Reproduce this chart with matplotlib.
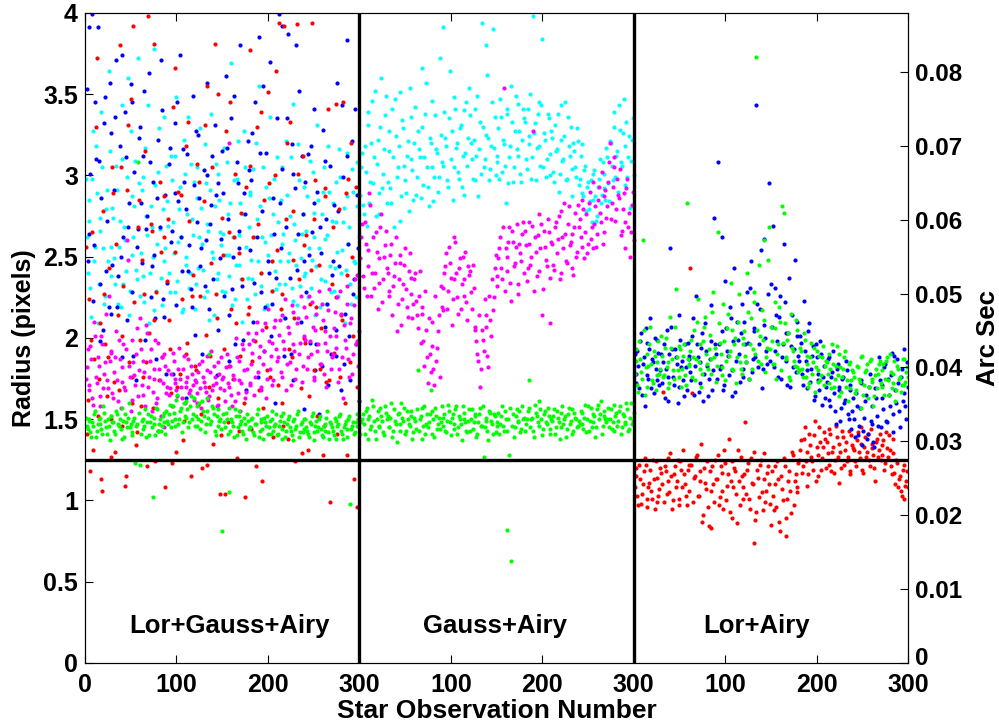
import numpy as np
import matplotlib.pyplot as plt
import matplotlib.transforms as mtransforms

plt.rcParams['font.family'] = ['Liberation Sans Narrow', 'Liberation Sans', 'DejaVu Sans']
plt.rcParams['font.weight'] = 'bold'

obs_odd = np.arange(1, 300, 2)
obs_even = np.arange(2, 301, 2)

# radius values x100; *_o = odd observations, *_e = even observations
# panel 1 : Lor+Gauss+Airy
green_1_o = [151,144,149,139,146,155,143,150,147,141,154,145,150,137,152,
             148,141,153,146,144,157,139,148,151,145,140,149,123,147,154,
             141,150,146,139,153,148,145,151,140,156,147,143,152,148,155,
             147,159,149,154,146,165,150,157,148,152,161,145,158,150,163,
             152,146,160,149,155,142,163,151,147,158,153,140,156,149,144,
             153,145,150,157,143,148,139,152,145,155,149,141,147,153,144,
             145,151,140,147,156,143,150,138,148,152,145,141,150,146,153,
             141,149,144,154,139,147,152,143,137,150,146,155,142,148,144,
             150,143,139,147,154,142,149,145,152,140,146,143,155,138,147,
             143,151,138,147,153,141,145,149,139,152,144,148,142,146,150]
green_1_e = [146,150,142,148,153,139,147,151,144,158,149,141,146,152,148,
             143,155,147,150,138,149,153,145,160,147,142,151,146,308,122,
             149,144,156,148,140,152,102,147,157,143,150,146,154,141,149,
             153,145,158,150,162,147,155,142,160,151,156,148,164,153,146,
             158,150,144,161,152,147,155,190,149,157,143,152,146,150,81,
             148,154,141,105,150,146,156,140,152,147,143,151,138,149,145,
             150,142,147,153,139,148,144,151,146,141,149,155,143,147,140,
             146,152,138,148,143,150,145,140,149,144,153,139,147,142,150,
             145,141,148,152,137,146,143,150,144,139,147,151,142,148,145,
             140,149,146,152,143,138,147,144,150,98,146,141,148,153,145]
magenta_1_o = [175,193,168,187,159,201,172,183,164,196,178,215,169,186,191,
               163,188,174,199,157,182,170,193,248,176,162,185,171,206,180,
               193,165,179,208,170,186,155,175,199,163,181,152,172,190,166,
               180,169,158,186,175,164,194,170,181,160,173,187,168,178,162,
               173,166,184,157,176,170,189,162,179,168,183,172,159,178,188,
               176,161,190,170,183,158,175,200,166,186,172,193,163,181,196,
               172,191,165,203,179,195,168,184,209,175,198,189,171,207,193,
               188,211,176,198,224,184,203,171,216,192,181,212,197,173,219,
               199,181,226,190,207,174,215,196,184,221,178,204,192,230,181,
               190,216,201,173,229,188,208,194,221,176,212,190,236,198,183]
magenta_1_e = [182,171,195,163,210,176,188,158,201,169,185,174,226,192,166,
               179,204,161,187,173,196,168,260,183,155,199,177,190,164,212,
               171,186,158,203,176,193,167,181,160,197,174,188,145,183,170,
               165,178,191,172,168,181,175,163,189,170,176,166,183,171,174,
               160,179,169,186,173,167,180,164,192,171,176,158,185,169,175,
               168,182,172,320,165,177,161,188,174,155,196,180,167,203,171,
               184,199,176,210,188,170,205,192,163,218,181,197,174,211,186,
               202,179,214,193,168,207,185,220,196,175,209,190,226,183,201,
               213,188,198,222,176,205,192,229,184,211,197,170,217,201,188,
               206,194,225,181,215,163,199,232,187,209,178,220,196,239,204]
red_1_o = [256,162,411,199,131,440,372,175,483,106,227,442,188,460,150,
           289,130,441,168,305,201,463,115,331,418,176,392,444,142,285,
           158,402,227,185,398,440,266,211,124,439,174,253,401,287,465,
           273,193,123,445,366,170,411,288,137,450,190,333,458,226,410,
           180,441,296,153,414,331,122,468,189,305,462,227,350,496,140,
           251,104,428,183,345,455,262,209,420,143,277,488,102,456,219,
           306,186,441,121,270,499,339,157,431,180,295,426,247,403,364,
           171,486,227,146,454,320,193,408,278,212,460,301,433,129,257,
           197,416,164,242,425,273,219,434,181,458,146,292,408,174,445,
           268,436,225,403,176,211,418,289,239,455,320,201,464,96,427]
red_1_e = [141,224,118,265,187,330,152,209,113,278,196,164,243,127,305,
           173,258,214,380,146,232,109,291,185,347,160,222,134,268,199,
           248,176,315,121,203,270,157,381,228,143,296,188,262,108,235,
           211,166,342,253,130,290,178,224,149,318,197,272,115,239,183,
           307,159,226,120,284,202,355,170,246,135,381,212,163,104,274,
           193,327,148,265,218,175,301,126,252,189,236,160,293,215,377,
           144,262,198,330,168,240,112,285,207,351,176,229,139,300,254,
           394,218,160,392,273,138,333,188,248,124,393,236,169,312,200,
           263,131,221,394,180,297,152,245,206,128,287,173,341,99,233,
           191,344,141,279,214,345,160,128,298,185,250,113,293,170,238]
blue_1_o = [408,247,391,482,223,345,466,309,198,473,332,241,490,357,215,
            463,336,219,487,250,374,404,311,268,434,345,189,498,256,323,
            283,429,352,267,491,308,244,427,212,286,459,371,224,401,178,
            441,317,266,403,289,345,428,262,316,497,279,241,468,219,294,
            327,412,286,255,465,232,300,471,270,312,446,288,205,440,261,
            289,442,317,186,470,230,349,414,295,255,428,199,276,444,303,
            451,326,234,498,176,314,457,355,219,481,240,201,426,264,237,
            422,283,392,448,212,335,473,190,301,432,380,264,486,312,247,
            296,476,251,318,424,283,196,439,268,183,452,309,221,457,190,
            247,423,205,278,429,343,184,466,312,201,472,227,341,473,255]
blue_1_e = [353,264,301,399,257,310,391,233,286,205,348,272,219,326,245,
            291,371,238,318,188,262,339,211,283,356,228,302,174,267,330,
            246,312,199,275,363,225,296,251,187,322,268,340,213,288,234,
            307,259,178,332,220,284,374,241,296,163,313,257,230,349,202,
            271,325,244,190,303,260,357,218,282,236,331,177,295,249,315,
            226,361,273,214,335,250,196,308,266,380,232,289,168,321,254,
            297,210,345,262,385,228,278,192,314,247,370,221,286,160,335,
            399,255,304,189,268,387,237,319,174,292,242,352,210,276,156,
            228,313,197,265,341,180,290,153,252,328,207,273,171,306,239,
            282,189,357,244,168,299,215,383,258,174,321,236,196,288,161]
cyan_1_o = [298,240,272,213,327,256,289,233,266,305,221,279,247,315,256,
            274,233,291,256,219,310,268,241,360,229,287,262,309,236,295,
            252,299,222,275,343,240,268,217,294,258,329,237,279,247,306,
            269,228,297,252,312,235,279,262,218,301,250,336,240,273,296,
            233,305,262,280,242,319,229,266,291,253,214,307,240,285,257,
            264,228,308,251,283,220,297,245,321,263,236,276,305,224,268,
            288,236,262,320,247,281,232,305,259,220,286,263,247,298,230,
            271,247,305,264,233,288,252,311,223,270,245,319,232,264,293,
            240,287,255,231,302,262,244,285,219,276,305,235,263,290,228,
            283,243,271,226,299,254,280,242,314,268,221,290,246,308,238]
cyan_1_e = [262,285,231,298,247,318,209,274,339,255,226,291,364,238,280,
            249,306,221,272,343,233,260,299,214,327,251,281,242,372,226,
            291,238,317,263,209,281,250,378,229,302,267,220,336,255,284,
            240,312,271,228,348,259,293,216,322,245,276,231,307,263,218,
            286,243,329,258,225,295,270,211,338,249,281,236,301,265,229,
            317,251,276,238,369,262,224,298,245,283,210,327,256,237,290,
            248,304,227,273,355,240,262,218,293,251,336,229,276,241,311,
            233,285,258,212,321,247,275,231,344,260,220,297,249,276,238,
            266,225,309,248,277,214,331,255,236,290,261,221,318,244,272,
            229,296,253,316,240,271,209,287,258,233,304,247,225,281,262]

# panel 2 : Gauss+Airy
cyan_2_o = [288,314,276,302,339,283,320,295,352,307,276,330,292,316,349,
            296,327,283,311,347,299,318,272,334,306,289,321,354,310,285,
            342,299,316,286,330,311,357,293,323,305,284,337,314,299,325,
            306,339,318,293,364,327,305,341,320,298,331,312,288,345,323,
            337,310,322,297,349,316,301,330,310,380,323,304,345,317,300,
            312,298,336,322,306,341,295,318,333,305,349,312,327,296,341,
            333,304,319,350,311,326,297,338,318,343,305,322,310,335,300,
            323,296,315,338,301,322,310,345,298,318,330,304,315,299,321,
            298,319,287,306,293,279,297,285,303,272,293,310,288,301,285,
            311,284,320,297,339,312,290,328,306,347,318,299,324,309,335]
cyan_2_e = [305,282,318,269,331,296,346,311,275,322,289,360,301,337,283,
            315,292,341,268,324,305,351,287,329,297,312,278,336,303,320,
            288,327,311,366,294,338,305,281,320,346,299,316,290,372,308,
            391,323,297,335,310,285,348,317,302,329,293,340,314,306,354,
            320,298,341,312,287,333,394,305,325,362,297,318,390,336,308,
            329,347,302,319,283,338,311,355,296,327,316,344,301,322,335,
            310,341,324,298,398,332,317,345,306,384,326,299,338,313,327,
            302,331,316,290,343,309,324,297,336,312,287,320,305,329,294,
            312,289,303,278,296,284,271,301,287,275,298,283,308,292,317,
            295,321,306,330,299,315,343,308,326,294,333,311,280,322,300]
magenta_2_o = [249,270,231,258,244,289,226,262,240,253,234,268,222,250,266,
               240,226,258,232,246,204,236,251,224,245,230,213,252,237,221,
               240,214,226,197,219,183,205,172,190,210,181,226,194,214,232,
               217,240,252,229,246,208,236,259,225,243,218,250,236,222,244,
               241,218,231,205,190,214,181,199,224,207,182,211,236,225,251,
               238,255,243,268,229,250,259,234,266,244,256,227,258,247,271,
               266,235,258,245,269,229,253,263,241,270,230,256,244,265,237,
               258,242,271,261,236,278,255,264,246,281,259,243,268,250,282,
               273,256,279,265,252,283,261,296,270,256,285,277,302,265,291,
               281,308,273,293,311,279,288,304,266,289,271,298,277,265,290]
magenta_2_e = [262,238,271,226,254,282,240,231,265,218,249,276,236,257,243,
               229,251,214,238,262,221,246,208,233,255,219,241,227,212,236,
               223,206,241,215,198,229,188,212,179,195,171,186,204,176,219,
               231,244,218,256,237,224,262,240,215,249,233,226,253,211,239,
               228,245,207,198,186,170,205,192,214,189,226,201,217,243,232,
               249,262,236,354,255,241,268,223,259,246,270,233,252,264,240,
               257,243,271,250,327,262,238,276,255,214,266,248,273,209,259,
               245,268,252,275,240,262,283,247,270,257,264,239,277,253,268,
               262,285,249,276,258,290,268,255,281,264,293,271,258,287,274,
               296,320,283,305,272,298,286,263,279,255,292,268,250,282,260]
green_2_o = [141,150,147,155,138,152,146,158,143,150,145,157,149,140,154,
             152,145,160,143,149,136,154,147,151,157,143,150,146,155,142,
             149,156,143,152,138,158,147,145,153,141,150,157,144,151,148,
             146,153,142,159,148,151,144,156,141,152,147,158,150,143,149,
             143,156,148,152,141,153,146,158,145,149,137,154,147,153,142,
             148,141,152,146,155,143,150,157,146,139,152,148,155,144,150,
             143,150,157,145,151,139,154,148,161,150,144,155,147,152,141,
             149,156,145,151,138,154,147,152,144,157,149,141,154,150,146,
             147,154,144,159,150,143,157,148,152,145,159,153,141,155,150,
             150,145,156,148,143,154,149,158,145,152,147,156,144,160,149]
green_2_e = [148,153,141,157,150,144,162,149,138,155,146,152,142,158,150,
             145,151,139,156,147,153,143,160,149,141,155,147,152,138,151,
             144,180,150,157,146,141,153,148,168,155,139,152,147,144,158,
             151,143,149,155,140,153,147,158,145,150,137,154,148,142,156,
             150,144,153,139,148,157,146,127,151,143,155,149,141,152,146,
             154,147,158,143,150,82,128,63,153,145,156,149,142,158,151,
             147,155,174,150,143,159,152,146,156,140,153,148,157,144,150,
             152,141,155,148,145,158,150,139,153,147,156,143,151,145,149,
             155,147,151,142,158,149,145,153,139,156,150,161,146,152,148,
             157,150,144,159,152,146,155,141,153,148,160,143,151,147,154]

# panel 3 : Lor+Airy
red_3_o = [108,120,97,113,104,118,122,101,111,106,125,95,114,103,120,
           110,99,118,126,105,115,100,121,112,97,124,108,116,103,119,
           106,122,99,115,128,103,112,87,120,107,96,118,83,110,125,
           113,97,121,106,131,100,116,93,124,108,118,86,112,127,101,
           116,104,123,95,111,130,88,119,102,125,94,113,106,121,98,
           118,94,110,124,87,115,100,121,89,112,106,130,97,116,108,
           125,137,121,145,130,116,134,124,140,112,128,145,119,133,138,
           136,122,141,130,117,146,127,135,120,139,131,124,143,118,134,
           131,121,142,126,135,117,139,130,125,144,132,120,136,127,141,
           128,137,123,132,140,121,129,117,125,108,115,103,122,109,118]
red_3_e = [115,103,122,98,110,126,96,108,119,101,113,124,99,107,117,
           167,121,104,112,129,95,116,108,125,101,119,131,110,97,122,
           243,166,114,127,103,118,135,91,111,124,84,106,121,99,113,
           128,102,117,95,123,109,138,112,89,120,104,131,97,115,108,
           148,119,101,126,110,74,93,114,122,105,129,99,117,110,85,
           103,121,96,113,81,107,126,78,101,118,92,128,112,105,123,
           131,117,138,124,109,141,127,119,149,133,115,136,126,142,120,
           129,144,118,133,125,139,111,130,143,122,136,127,116,140,132,
           124,137,130,145,119,133,127,141,121,135,128,112,138,131,125,
           134,119,142,127,131,116,138,110,123,113,106,119,101,112,108]
blue_3_o = [190,172,183,198,165,188,206,177,193,169,185,200,174,191,180,
            172,196,181,161,190,207,176,193,184,170,199,186,164,182,197,
            189,174,212,183,196,167,185,203,178,192,164,187,220,180,196,
            175,196,183,262,171,206,189,219,180,198,167,210,190,203,176,
            210,185,197,231,179,204,188,221,196,254,181,208,192,227,186,
            207,182,231,198,213,175,196,222,186,203,170,214,193,179,201,
            186,197,171,192,180,204,173,189,162,196,178,168,190,176,163,
            173,188,158,179,166,147,184,170,157,176,162,180,150,168,155,
            150,166,140,157,174,143,161,138,170,149,158,133,163,146,174,
            171,156,184,148,165,177,153,189,160,172,145,181,166,158,185]
blue_3_e = [178,192,169,203,184,158,197,175,212,187,166,181,199,171,190,
            185,163,205,176,255,193,171,188,160,214,182,174,196,168,187,
            179,201,165,226,188,172,194,161,209,183,175,198,168,274,190,
            308,181,204,168,235,192,177,212,164,243,186,199,173,221,181,
            196,228,175,247,187,206,343,182,218,169,261,200,184,295,233,
            269,192,214,176,226,188,258,203,171,237,195,182,248,210,189,
            201,178,223,186,169,209,181,195,164,188,174,198,159,183,170,
            187,162,176,192,155,181,168,149,175,160,186,153,171,144,163,
            139,158,146,172,134,151,165,141,178,147,136,169,152,188,145,
            163,182,149,175,158,191,142,168,187,155,176,161,193,150,170]
green_3_o = [178,193,167,187,175,205,182,170,196,184,172,189,177,198,181,
             189,177,200,185,172,194,180,207,188,176,193,181,196,171,187,
             183,199,188,174,210,185,196,178,207,190,181,202,187,228,194,
             183,209,190,177,198,186,215,192,205,180,200,188,227,181,196,
             204,185,216,196,181,222,190,205,245,184,199,211,188,248,193,
             198,184,206,190,219,180,197,209,187,203,174,194,186,211,182,
             180,192,176,199,184,170,188,178,194,182,173,189,177,195,183,
             185,172,181,196,170,183,177,190,167,181,192,174,184,169,180,
             176,168,182,173,188,165,179,184,170,187,175,164,181,178,186,
             170,184,175,188,165,179,172,186,168,181,176,171,187,173,182]
green_3_e = [186,171,198,179,260,165,190,183,207,174,192,168,185,178,201,
             176,194,182,169,213,187,175,230,180,195,170,189,177,283,184,
             192,176,205,187,224,181,170,198,213,184,193,178,216,188,173,
             265,197,182,221,174,206,189,234,181,196,172,210,185,178,200,
             189,240,175,212,193,228,373,186,201,217,260,179,194,268,207,
             184,222,175,196,210,281,277,188,199,176,215,192,183,205,179,
             194,181,203,176,189,172,197,185,167,192,180,174,188,171,186,
             178,190,169,184,175,195,164,182,176,188,170,161,185,174,179,
             166,183,175,157,189,171,180,163,186,173,158,177,169,184,172,
             180,165,186,174,190,169,178,161,183,175,167,187,171,179,176]

panel_names = ['Lor+Gauss+Airy', 'Gauss+Airy', 'Lor+Airy']
xtick_labels = ['0', '100', '200', '300', '100', '200', '300', '100', '200', '300']
pix2arcsec = 0.022

panels = [
    (0, [(cyan_1_o, cyan_1_e, 'c'), (blue_1_o, blue_1_e, 'b'), (red_1_o, red_1_e, 'r'),
         (magenta_1_o, magenta_1_e, 'm'), (green_1_o, green_1_e, 'g')]),
    (300, [(cyan_2_o, cyan_2_e, 'c'), (magenta_2_o, magenta_2_e, 'm'), (green_2_o, green_2_e, 'g')]),
    (600, [(red_3_o, red_3_e, 'r'), (blue_3_o, blue_3_e, 'b'), (green_3_o, green_3_e, 'g')]),
]
cols = {'r': (1, 0, 0), 'b': (0, 0, 1), 'c': (0, 1, 1), 'm': (1, 0, 1), 'g': (0, 1, 0)}

fig = plt.figure(figsize=(9.99, 7.24), dpi=100)
ax = fig.add_axes([0.085, 0.0843, 0.824, 0.898])

for off, series in panels:
    for odd, even, c in series:
        x = np.concatenate([obs_odd, obs_even]) + off
        y = np.array(odd + even) / 100.0
        ax.plot(x, y, 'o', color=cols[c], ms=3.0, mew=0)

ax.axvline(300, color='k', lw=2.4)
ax.axvline(600, color='k', lw=2.4)
ax.axhline(1.25, color='k', lw=2.4)

for i, name in enumerate(panel_names):
    ax.text(i * 300 + [158, 148, 134][i], 0.23, name, ha='center', va='center', fontsize=18.5, fontweight='bold')

ax.set_xlim(0, 900)
ax.set_ylim(0, 4)
ax.set_xticks(np.arange(0, 901, 100))
ax.set_xticklabels(xtick_labels)
ax.set_yticks(np.arange(0, 4.01, 0.5))
ax.set_yticklabels(['0', '0.5', '1', '1.5', '2', '2.5', '3', '3.5', '4'])
ax.tick_params(direction='in', labelsize=18, length=6, top=True, pad=5)
ax.tick_params(axis='x', pad=7)
ax.set_xlabel('Star Observation Number', fontsize=19, fontweight='bold', labelpad=2)
ax.set_ylabel('Radius (pixels)', fontsize=18, fontweight='bold', labelpad=5)

ax2 = ax.twinx()
ax2.set_ylim(0, 4 * pix2arcsec)
ax2.set_yticks(np.arange(0, 0.081, 0.01))
ax2.set_yticklabels(['0', '0.01', '0.02', '0.03', '0.04', '0.05', '0.06', '0.07', '0.08'])
ax2.tick_params(direction='in', labelsize=17.5, length=6, pad=5)
ax2.set_ylabel('Arc Sec', fontsize=18.5, fontweight='bold', labelpad=10)

# nudge the right-hand "0" up a little so it clears the last "300"
zero_lab = ax2.yaxis.get_major_ticks()[0].label2
zero_lab.set_transform(zero_lab.get_transform() + mtransforms.ScaledTranslation(0, 5 / 72, fig.dpi_scale_trans))

fig.savefig('out.png', dpi=100)
